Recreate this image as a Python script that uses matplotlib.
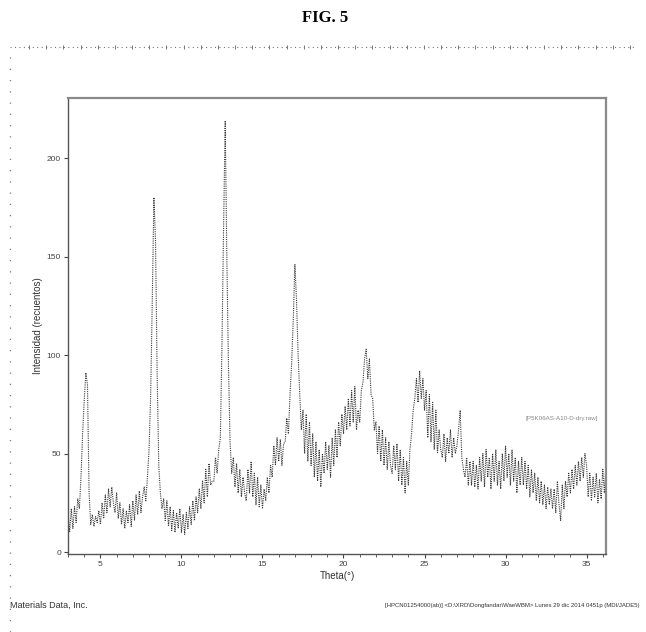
import numpy as np
import matplotlib
matplotlib.use('Agg')
import matplotlib.pyplot as plt
from matplotlib.lines import Line2D
from matplotlib.ticker import MultipleLocator

# barrido 2theta: inicio y paso
theta_start = 3.0
theta_step = 0.1

# intensidad (una fila por grado)
intensity = [
    20, 10, 22, 12, 23, 15, 27, 22, 38, 60,     # 3
    77, 91, 85, 30, 14, 19, 13, 18, 15, 21,     # 4
    14, 25, 17, 29, 20, 32, 23, 33, 25, 20,     # 5
    30, 17, 25, 14, 22, 12, 21, 15, 24, 13,     # 6
    26, 16, 29, 19, 31, 20, 28, 33, 26, 38,     # 7
    52, 80, 128, 180, 158, 90, 44, 30, 22, 27,  # 8
    16, 26, 13, 23, 11, 21, 10, 20, 12, 22,     # 9
    10, 19, 9, 20, 12, 23, 14, 26, 16, 28,      # 10
    20, 32, 22, 36, 25, 42, 28, 45, 34, 36,     # 11
    36, 48, 40, 52, 58, 105, 165, 219, 150, 95, # 12
    56, 40, 48, 33, 45, 30, 42, 28, 38, 30,     # 13
    26, 42, 30, 46, 28, 40, 24, 38, 23, 34,     # 14
    22, 32, 26, 38, 30, 44, 38, 54, 44, 58,     # 15
    46, 57, 44, 55, 56, 68, 60, 80, 96, 118,    # 16
    146, 128, 100, 80, 62, 72, 50, 70, 46, 66,  # 17
    44, 60, 38, 56, 36, 52, 33, 50, 40, 56,     # 18
    42, 54, 38, 58, 44, 62, 48, 66, 54, 70,     # 19
    60, 74, 62, 78, 64, 82, 66, 84, 62, 72,     # 20
    66, 82, 86, 98, 103, 88, 98, 80, 78, 62,    # 21
    66, 50, 64, 46, 62, 44, 58, 42, 56, 44,     # 22
    40, 54, 42, 55, 36, 52, 34, 48, 30, 46,     # 23
    34, 52, 60, 72, 78, 88, 76, 92, 78, 88,     # 24
    72, 82, 58, 80, 56, 76, 52, 72, 50, 62,     # 25
    52, 48, 60, 46, 58, 50, 62, 48, 58, 50,     # 26
    54, 62, 72, 48, 42, 38, 48, 34, 46, 34,     # 27
    46, 33, 44, 32, 48, 36, 50, 33, 52, 38,     # 28
    48, 32, 50, 36, 52, 34, 46, 32, 50, 36,     # 29
    54, 38, 50, 34, 52, 36, 48, 30, 46, 34,     # 30
    48, 34, 46, 32, 44, 28, 42, 30, 40, 26,     # 31
    38, 25, 36, 24, 34, 22, 33, 24, 32, 22,     # 32
    32, 20, 36, 24, 16, 34, 22, 36, 28, 40,     # 33
    30, 42, 32, 44, 34, 46, 36, 48, 38, 50,     # 34
    44, 28, 40, 26, 38, 28, 40, 25, 37, 27,     # 35
    42, 30, 45,                                 # 36
]
theta = theta_start + theta_step * np.arange(len(intensity))

x_ticks = [5, 10, 15, 20, 25, 30, 35]
y_ticks = [0, 50, 100, 150, 200]

plt.rcParams['font.family'] = ['Liberation Sans', 'DejaVu Sans']

fig = plt.figure(figsize=(6.46, 6.32), dpi=100)
ax = fig.add_axes([0.1053, 0.1234, 0.8328, 0.7215])

ax.plot(theta, intensity, linestyle=(0, (1, 1)), color='#3a3a3a', linewidth=0.8)

ax.set_xlim(3.0, 36.2)
ax.set_ylim(-1, 230.5)
ax.set_xticks(x_ticks)
ax.set_yticks(y_ticks)
ax.xaxis.set_minor_locator(MultipleLocator(1))
ax.tick_params(axis='both', which='major', direction='out', length=3, width=0.8,
               labelsize=6, colors='#444444', pad=2)
ax.tick_params(axis='x', which='minor', direction='out', length=2, width=0.6, colors='#444444')
ax.set_xlabel('Theta(°)', fontsize=7, color='#333333', labelpad=2)
ax.set_ylabel('Intensidad (recuentos)', fontsize=7, color='#333333', labelpad=3)

for side in ['top', 'right']:
    ax.spines[side].set_color('#8a8a8a')
    ax.spines[side].set_linewidth(1.6)
for side in ['left', 'bottom']:
    ax.spines[side].set_color('#555555')
    ax.spines[side].set_linewidth(1.0)

ax.text(0.985, 0.298, '[P5K06AS-A10-D-dry.raw]', transform=ax.transAxes,
        fontsize=4.5, color='#888888', ha='right', va='center')

fig.text(0.503, 0.972, 'FIG. 5', fontsize=12, fontweight='bold',
         family='Liberation Serif', ha='center', va='center')
fig.text(0.015, 0.042, 'Materials Data, Inc.', fontsize=6.5, color='#333333',
         ha='left', va='center')
fig.text(0.99, 0.042,
         '[HPCN01254000(ab)] <D:\\XRD\\Dongfandar\\WaeWBM> Lunes 29 dic 2014 0451p (MDI/JADE5)',
         fontsize=4.3, color='#333333', ha='right', va='center')

# reglas punteadas del borde (decoracion del escaneo)
fig.add_artist(Line2D([0.015, 0.985], [0.926, 0.926], transform=fig.transFigure,
                      linestyle=(0, (1, 3)), color='#777777', linewidth=0.8))
ruler_x = np.linspace(0.045, 0.975, 36)
fig.add_artist(Line2D(ruler_x, np.full(len(ruler_x), 0.926), transform=fig.transFigure,
                      linestyle='none', marker='|', markersize=3, color='#777777',
                      markeredgewidth=0.7))
fig.add_artist(Line2D([0.016, 0.016], [0.0, 0.915], transform=fig.transFigure,
                      linestyle=(0, (1, 8)), color='#777777', linewidth=0.9))

fig.savefig('out.png', dpi=100)
